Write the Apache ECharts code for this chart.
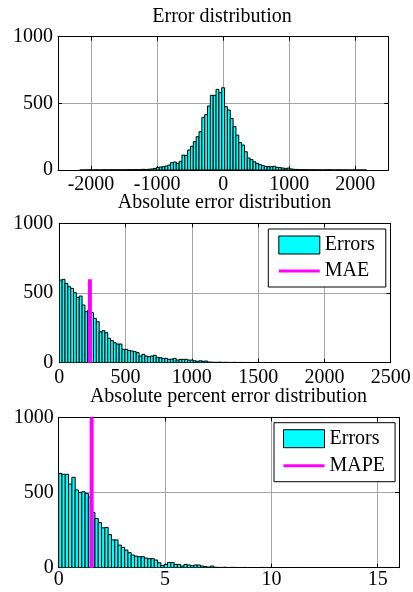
<!DOCTYPE html>
<html>
<head>
<meta charset="utf-8">
<title>Error distributions</title>
<script src="https://cdn.jsdelivr.net/npm/echarts@6/dist/echarts.min.js"></script>
<style>
  html, body { margin: 0; padding: 0; background: #fff; }
  #chart { width: 413px; height: 592px; }
</style>
</head>
<body>
<div id="chart"></div>
<script>
// ---- Signed error histogram: bins of errBinWidth, first bin's left edge at errBinStart
const errBinStart = -2171.5;
const errBinWidth = 43;
const errCounts = [
  0, 0, 1, 1, 0, 1, 1, 0, 2, 1, 1, 2, 1, 2, 2, 1, 2, 3, 2, 3, 3, 4, 5, 4, 6, 8, 12,
  20, 22, 25, 30, 37, 55, 60, 50, 65, 112, 110, 150, 178, 212, 250, 287, 395, 415, 480, 560, 560, 605, 580,
  617,
  475, 450, 387, 325, 262, 205, 187, 137, 90, 78, 62, 50, 40, 33, 27, 25, 25, 28, 20, 18, 15, 12, 14, 8, 5, 4,
  3, 3, 2, 2, 1, 2, 1, 1, 0, 1, 2, 1, 0, 1, 1, 0, 1, 0, 0, 1, 0, 0, 0, 0
];

// ---- Absolute error histogram
const absBinStart = 0;
const absBinWidth = 21.5;
const absCounts = [
  593, 598, 569, 545, 533, 502, 469, 478, 414, 366, 378, 359, 318, 294, 222, 230, 215, 175, 158, 143,
  134, 134, 96, 96, 88, 84, 79, 72, 48, 60, 48, 43, 48, 53, 38, 36, 31, 31, 24, 26,
  31, 19, 24, 24, 24, 19, 19, 14, 10, 14, 10, 12, 5,
  4, 3, 3, 4, 2, 3, 2, 2, 3, 1, 2, 2, 1, 2, 0, 1, 2, 1, 1, 0, 1, 2, 1, 0, 1, 1, 0, 0, 1, 1,
  0, 1, 0, 1, 1, 0, 1, 0, 0, 1, 1, 0, 1, 0, 1, 0, 1
];
const maeValue = 231;
const maeHeight = 598;

// ---- Absolute percent error histogram
const apeBinStart = 0;
const apeBinWidth = 0.155;
const apeCounts = [
  627, 621, 621, 556, 601, 517, 501, 505, 494, 470, 368, 327, 300, 265, 268, 220, 185, 185, 150, 135,
  117, 100, 84, 77, 73, 73, 64, 60, 60, 51, 33, 15, 22, 35, 35, 22, 22, 11, 22, 18,
  13, 18, 18, 11, 7, 4, 11,
  3, 2, 2, 3, 1, 2, 2, 1, 1, 2, 1, 0, 1, 1, 2, 1, 0, 1, 1, 0, 1, 1, 0, 1, 0, 1, 1, 0, 0, 1,
  1, 0, 1, 0, 1, 0, 0, 1, 1, 0, 1, 0, 0, 1, 0, 1, 0, 0, 1, 0, 0, 0, 0
];
const mapeValue = 1.55;
const mapeHeight = 1000;

// ---- Axis ticks
const errTicks = [-2000, -1000, 0, 1000, 2000];
const absTicks = [0, 500, 1000, 1500, 2000, 2500];
const apeTicks = [0, 5, 10, 15];
const countTicks = [0, 500, 1000];

const titles = ['Error distribution', 'Absolute error distribution', 'Absolute percent error distribution'];

const FONT = '"Liberation Serif", "Times New Roman", serif';
const FONT_SIZE = 20;
const CYAN = '#00ffff';
const MAGENTA = '#ff00ff';
const GRID_GRAY = '#a4a4a4';

// [left edge, right edge, count] rows for a histogram
function binRows(start, width, counts) {
  return counts.map((c, i) => [start + i * width, start + (i + 1) * width, c]);
}

function histBar(params, api) {
  const top = api.coord([api.value(0), api.value(2)]);
  const base = api.coord([api.value(1), 0]);
  return {
    type: 'rect',
    shape: { x: top[0], y: top[1], width: base[0] - top[0], height: base[1] - top[1] },
    style: { fill: CYAN, stroke: '#000', lineWidth: 1 }
  };
}

// Boxed axes: labelled bottom/left axis plus a mirrored top/right axis, ticks inside
function boxAxes(dim, gridIndex, min, max, ticks, margin) {
  const tick = { show: true, inside: true, length: 4, customValues: ticks, lineStyle: { color: '#000', width: 1 } };
  const line = { show: true, onZero: false, lineStyle: { color: '#000', width: 1 } };
  const main = {
    type: 'value', gridIndex, min, max,
    position: dim === 'x' ? 'bottom' : 'left',
    axisLine: line,
    axisTick: tick,
    axisLabel: {
      customValues: ticks, margin, color: '#000',
      fontFamily: FONT, fontSize: FONT_SIZE,
      formatter: v => String(v)
    },
    splitLine: { show: true, lineStyle: { color: GRID_GRAY, width: 1 } }
  };
  const mirror = {
    type: 'value', gridIndex, min, max,
    position: dim === 'x' ? 'top' : 'right',
    axisLine: line,
    axisTick: tick,
    axisLabel: { show: false },
    splitLine: { show: false }
  };
  return [main, mirror];
}

const grids = [
  { left: 58, top: 36.7, width: 330.3, height: 133.3 },
  { left: 59.3, top: 223.3, width: 331.4, height: 139.4 },
  { left: 58.7, top: 417.3, width: 340.3, height: 150.4 }
].map(g => Object.assign({ outerBoundsMode: 'none', containLabel: false }, g));

const xAxes = [].concat(
  boxAxes('x', 0, -2500, 2500, errTicks, 4.5),
  boxAxes('x', 1, 0, 2500, absTicks, 5.5),
  boxAxes('x', 2, 0, 16, apeTicks, 2.5)
);
const yAxes = [].concat(
  boxAxes('y', 0, 0, 1000, countTicks, 5),
  boxAxes('y', 1, 0, 1000, countTicks, 6),
  boxAxes('y', 2, 0, 1000, countTicks, 5)
);

// Legend glyph for the mean line: a 3px bar across the 41x18 icon box
const lineIcon = 'path://M0,0 L0,0 M0,7.5 L41,7.5 L41,10.5 L0,10.5 Z M41,18 L41,18';

function legendFor(left, top, padding, gap, lineName) {
  return {
    orient: 'vertical', left, top, padding, itemGap: gap,
    itemWidth: 41, itemHeight: 18,
    borderColor: '#000', borderWidth: 1, borderRadius: 0,
    backgroundColor: '#fff',
    selectedMode: false,
    textStyle: { fontFamily: FONT, fontSize: FONT_SIZE, color: '#000' },
    data: [
      { name: 'Errors', icon: 'rect', itemStyle: { color: CYAN, borderColor: '#000', borderWidth: 1 } },
      { name: lineName, icon: lineIcon, itemStyle: { color: MAGENTA, borderWidth: 0, borderColor: 'transparent' } }
    ]
  };
}

function meanLine(name, axisIndex, x, height) {
  return {
    type: 'line', name, xAxisIndex: axisIndex, yAxisIndex: axisIndex,
    data: [[x, 0], [x, height]],
    symbol: 'none', silent: true,
    lineStyle: { color: MAGENTA, width: 4, cap: 'butt' },
    itemStyle: { color: MAGENTA },
    z: 3
  };
}

const titleCenters = [222, 224.5, 228.5];
const titleTops = [7, 192.5, 386.5];

const option = {
  animation: false,
  backgroundColor: '#fff',
  grid: grids,
  xAxis: xAxes,
  yAxis: yAxes,
  legend: [
    legendFor(268.3, 229, [6, 11, 6, 10], 6, 'MAE'),
    legendFor(274, 422.7, [6, 10, 6, 9], 7, 'MAPE')
  ],
  graphic: titles.map((t, i) => ({
    type: 'text', x: titleCenters[i], y: titleTops[i],
    style: { text: t, fontFamily: FONT, fontSize: FONT_SIZE, fill: '#000', align: 'center', verticalAlign: 'top' }
  })),
  series: [
    {
      type: 'custom', name: 'Error', xAxisIndex: 0, yAxisIndex: 0,
      renderItem: histBar, encode: { x: [0, 1], y: 2 }, clip: true,
      data: binRows(errBinStart, errBinWidth, errCounts)
    },
    {
      type: 'custom', name: 'Errors', xAxisIndex: 2, yAxisIndex: 2,
      renderItem: histBar, encode: { x: [0, 1], y: 2 }, clip: true,
      data: binRows(absBinStart, absBinWidth, absCounts)
    },
    meanLine('MAE', 2, maeValue, maeHeight),
    {
      type: 'custom', name: 'Errors', xAxisIndex: 4, yAxisIndex: 4,
      renderItem: histBar, encode: { x: [0, 1], y: 2 }, clip: true,
      data: binRows(apeBinStart, apeBinWidth, apeCounts)
    },
    meanLine('MAPE', 4, mapeValue, mapeHeight)
  ]
};

const chart = echarts.init(document.getElementById('chart'), null, { renderer: 'canvas' });
chart.setOption(option);
</script>
</body>
</html>
